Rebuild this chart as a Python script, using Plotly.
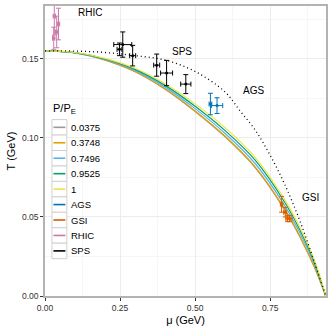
import plotly.graph_objects as go

# freeze-out curves, T(mu) for each P/P_E
mu_grid = [0.0, 0.1, 0.2, 0.3, 0.4, 0.5, 0.6, 0.7, 0.8, 0.85, 0.9, 0.935]
T_00375 = [0.1550, 0.1537, 0.1492, 0.1419, 0.1308, 0.1167, 0.1006, 0.0812, 0.0540, 0.0370, 0.0170, 0.0]
T_03748 = [0.1550, 0.1537, 0.1493, 0.1420, 0.1310, 0.1170, 0.1010, 0.0817, 0.0545, 0.0375, 0.0173, 0.0]
T_07496 = [0.1550, 0.1538, 0.1496, 0.1427, 0.1321, 0.1185, 0.1028, 0.0838, 0.0567, 0.0395, 0.0188, 0.0]
T_09525 = [0.1550, 0.1539, 0.1499, 0.1433, 0.1332, 0.1200, 0.1046, 0.0859, 0.0588, 0.0414, 0.0201, 0.0]
T_1 = [0.1550, 0.1540, 0.1503, 0.1440, 0.1342, 0.1215, 0.1065, 0.0877, 0.0605, 0.0430, 0.0213, 0.0]

# dotted reference curve
mu_dot = [0.0, 0.1, 0.2, 0.3, 0.4, 0.5, 0.6, 0.65, 0.7, 0.75, 0.8, 0.85, 0.9, 0.935]
T_dot = [0.155, 0.1549, 0.1540, 0.1520, 0.1492, 0.1420, 0.1290, 0.1170, 0.1050, 0.0890, 0.0700, 0.0470, 0.0200, 0.0]

# experimental points
rhic_mu = [0.031, 0.045, 0.039, 0.029]
rhic_T = [0.177, 0.172, 0.167, 0.163]
rhic_emu = [0.004, 0.004, 0.004, 0.004]
rhic_eT = [0.012, 0.010, 0.010, 0.007]

sps_mu = [0.248, 0.259, 0.292, 0.372, 0.405, 0.469]
sps_T = [0.156, 0.159, 0.152, 0.146, 0.141, 0.134]
sps_emu = [0.008, 0.030, 0.010, 0.010, 0.020, 0.017]
sps_eT = [0.004, 0.008, 0.0065, 0.007, 0.008, 0.006]

ags_mu = [0.551, 0.573]
ags_T = [0.1214, 0.1204]
ags_emu = [0.0045, 0.019]
ags_eT = [0.0068, 0.005]

gsi_mu = [0.788, 0.800, 0.808, 0.815]
gsi_T = [0.058, 0.053, 0.049, 0.049]
gsi_emu = [0.004, 0.005, 0.006, 0.008]
gsi_eT = [0.005, 0.003, 0.002, 0.002]

legend_names = ["0.0375", "0.3748", "0.7496", "0.9525", "1", "AGS", "GSI", "RHIC", "SPS"]
legend_colors = ["#999999", "#E69F00", "#56B4E9", "#009E73", "#F0E442",
                 "#0072B2", "#D55E00", "#CC79A7", "#000000"]

labels = ["RHIC", "SPS", "AGS", "GSI"]
label_mu = [0.149, 0.455, 0.696, 0.885]
label_T = [0.1796, 0.1546, 0.1298, 0.062]

FONT = "Liberation Sans, Arial, sans-serif"

fig = go.Figure()

for T, col in zip([T_00375, T_03748, T_07496, T_09525, T_1], legend_colors[:5]):
    fig.add_trace(go.Scatter(x=mu_grid, y=T, mode="lines", line_shape="spline",
                             line=dict(color=col, width=1.2), showlegend=False))

fig.add_trace(go.Scatter(x=mu_dot, y=T_dot, mode="lines", line_shape="spline",
                         line=dict(color="black", width=1.3, dash="1px,3px"), showlegend=False))

pts = [(ags_mu, ags_T, ags_emu, ags_eT, "#0072B2"),
       (gsi_mu, gsi_T, gsi_emu, gsi_eT, "#D55E00"),
       (rhic_mu, rhic_T, rhic_emu, rhic_eT, "#CC79A7"),
       (sps_mu, sps_T, sps_emu, sps_eT, "#000000")]
for m, t, em, et, col in pts:
    fig.add_trace(go.Scatter(
        x=m, y=t, mode="markers", marker=dict(color=col, size=3),
        error_x=dict(type="data", array=em, color=col, thickness=1, width=2.5),
        error_y=dict(type="data", array=et, color=col, thickness=1, width=2.5),
        showlegend=False))

for txt, m, t in zip(labels, label_mu, label_T):
    fig.add_annotation(x=m, y=t, text=txt, showarrow=False,
                       font=dict(size=10, color="black", family=FONT))

# hand-made ggplot style legend (pixel -> paper)
L, R, TOP, BOT = 45, 328, 5, 296
def px(x):
    return (x - L) / (R - L)
def py(y):
    return (BOT - y) / (BOT - TOP)

fig.add_annotation(xref="paper", yref="paper", x=px(51), y=py(108), xanchor="left",
                   yanchor="middle", text="P/P<sub>E</sub>", showarrow=False,
                   font=dict(size=11, color="black", family=FONT))
key_top = 119
key_h = 15.5
for i, (name, col) in enumerate(zip(legend_names, legend_colors)):
    y0 = key_top + i * key_h
    fig.add_shape(type="rect", xref="paper", yref="paper",
                  x0=px(52), x1=px(67), y0=py(y0), y1=py(y0 + key_h),
                  fillcolor="white", line=dict(color="#d0d0d0", width=1))
    fig.add_shape(type="line", xref="paper", yref="paper",
                  x0=px(53.5), x1=px(65.5), y0=py(y0 + key_h / 2), y1=py(y0 + key_h / 2),
                  line=dict(color=col, width=1.6))
    fig.add_annotation(xref="paper", yref="paper", x=px(69), y=py(y0 + key_h / 2),
                       xanchor="left", yanchor="middle", text=name, showarrow=False,
                       font=dict(size=9.5, color="black", family=FONT))

axis_common = dict(
    showline=True, mirror=True, linecolor="#b3b3b3", linewidth=1.5,
    ticks="outside", ticklen=3, tickcolor="#333333", tickwidth=1,
    gridcolor="#ececec", gridwidth=0.8, zeroline=False,
    tickfont=dict(size=8.5, color="#333333", family=FONT),
    tickformat=".2f",
)

fig.update_xaxes(range=[0, 0.936], dtick=0.25, tick0=0,
                 minor=dict(showgrid=True, dtick=0.125, gridcolor="#f6f6f6", gridwidth=0.6),
                 title=dict(text="μ (GeV)", font=dict(size=11, color="black", family=FONT),
                            standoff=4),
                 **axis_common)
fig.update_yaxes(range=[0, 0.1834], dtick=0.05, tick0=0,
                 minor=dict(showgrid=True, dtick=0.025, gridcolor="#f6f6f6", gridwidth=0.6),
                 title=dict(text="T (GeV)", font=dict(size=11, color="black", family=FONT),
                            standoff=4),
                 **axis_common)

fig.update_layout(
    width=332, height=332,
    margin=dict(l=45, r=4, t=5, b=36),
    plot_bgcolor="white", paper_bgcolor="white",
    font=dict(family=FONT),
    showlegend=False,
)

fig.write_html("out.html", config={"displayModeBar": False},
               post_script="document.body.style.margin='0';")
